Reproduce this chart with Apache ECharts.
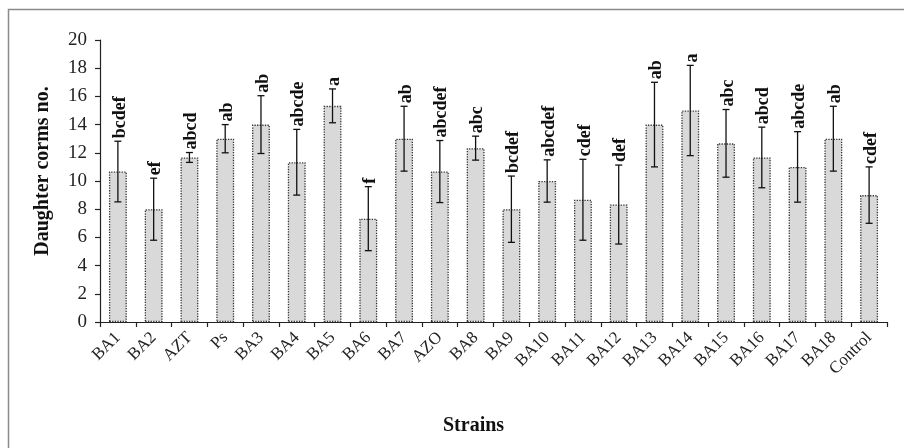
<!DOCTYPE html>
<html>
<head>
<meta charset="utf-8">
<script src="https://cdn.jsdelivr.net/npm/echarts@6/dist/echarts.min.js"></script>
<style>
html,body{margin:0;padding:0;background:#fff;}
#chart{width:904px;height:448px;}
</style>
</head>
<body>
<div id="chart"></div>
<script>
var categories = ['BA1','BA2','AZT','Ps','BA3','BA4','BA5','BA6','BA7','AZO','BA8','BA9','BA10','BA11','BA12','BA13','BA14','BA15','BA16','BA17','BA18','Control'];
var means = [10.67, 8.0, 11.67, 13.0, 14.0, 11.33, 15.33, 7.33, 13.0, 10.67, 12.33, 8.0, 10.0, 8.67, 8.33, 14.0, 15.0, 12.67, 11.67, 11.0, 13.0, 9.0];
var errors = [2.15, 2.2, 0.35, 1.0, 2.05, 2.33, 1.2, 2.27, 2.3, 2.2, 0.85, 2.35, 1.5, 2.87, 2.8, 3.0, 3.2, 2.4, 2.15, 2.5, 2.3, 2.0];
var letters = ['bcdef','ef','abcd','ab','ab','abcde','a','f','ab','abcdef','abc','bcdef','abcdef','cdef','def','ab','a','abc','abcd','abcde','ab','cdef'];
var yTicks = [0, 20, 2];

var serif = '"Liberation Serif", "Times New Roman", serif';
var chart = echarts.init(document.getElementById('chart'));

var errData = categories.map(function(c, i){ return [i, means[i], errors[i], letters[i]]; });

chart.setOption({
  animation: false,
  backgroundColor: '#fff',
  grid: {left: 100, right: 17, top: 40, bottom: 126},
  xAxis: {
    type: 'category',
    data: categories,
    boundaryGap: true,
    axisLine: {lineStyle: {color: '#222', width: 1.2}},
    axisTick: {show: true, alignWithLabel: false, length: 5, inside: false, lineStyle: {color: '#222', width: 1.2}},
    axisLabel: {rotate: 45, fontFamily: serif, fontSize: 17, color: '#222', margin: 13, interval: 0}
  },
  yAxis: {
    type: 'value',
    min: yTicks[0], max: yTicks[1], interval: yTicks[2],
    axisLine: {show: true, lineStyle: {color: '#222', width: 1.2}},
    axisTick: {show: true, length: 5, lineStyle: {color: '#222', width: 1.2}},
    axisLabel: {fontFamily: serif, fontSize: 19, color: '#222', margin: 13},
    splitLine: {show: false}
  },
  graphic: [
    {type: 'rect', shape: {x: 8.5, y: 9.5, width: 920, height: 460}, style: {fill: 'none', stroke: '#8a8a8a', lineWidth: 1.5}, silent: true, z: -1},
    {type: 'text', left: 443, top: 416, style: {text: 'Strains', font: 'bold 20px ' + serif, fill: '#111'}},
    {type: 'text', x: 43, y: 171, rotation: Math.PI / 2, style: {text: 'Daughter corms no.', font: 'bold 20px ' + serif, fill: '#111', align: 'center', verticalAlign: 'middle'}}
  ],
  series: [
    {
      type: 'bar',
      data: means,
      barWidth: '50%',
      itemStyle: {color: '#d9d9d9', borderColor: '#333', borderWidth: 1.3, borderType: 'dotted'}
    },
    {
      type: 'custom',
      data: errData,
      z: 10,
      renderItem: function(params, api) {
        var i = api.value(0), m = api.value(1), e = api.value(2);
        var top = api.coord([i, m + e]);
        var bot = api.coord([i, m - e]);
        var x = top[0];
        var hw = 3.5;
        var st = {stroke: '#111', lineWidth: 1.3};
        return {
          type: 'group',
          children: [
            {type: 'line', shape: {x1: x, y1: top[1], x2: x, y2: bot[1]}, style: st},
            {type: 'line', shape: {x1: x - hw, y1: top[1], x2: x + hw, y2: top[1]}, style: st},
            {type: 'line', shape: {x1: x - hw, y1: bot[1], x2: x + hw, y2: bot[1]}, style: st},
            {type: 'text', x: x + 2, y: top[1] - 3, rotation: Math.PI / 2,
             style: {text: letters[i], font: 'bold 18px ' + serif, fill: '#111', align: 'left', verticalAlign: 'middle'}}
          ]
        };
      }
    }
  ]
});
</script>
</body>
</html>
